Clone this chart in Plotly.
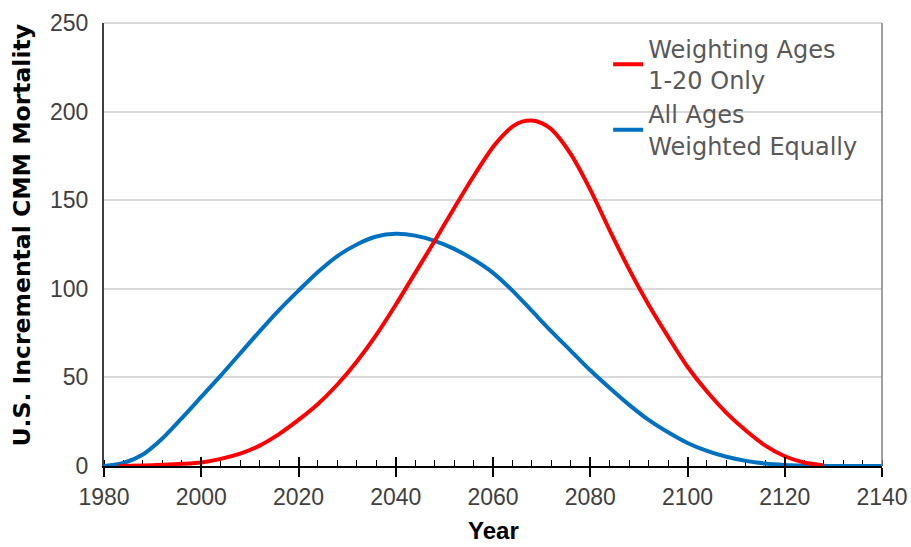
import plotly.graph_objects as go

# ---- data ----
years_red = [1983, 1988, 1992, 1996, 2000, 2004, 2008, 2012, 2016, 2020, 2024, 2028,
             2032, 2036, 2040, 2044, 2048, 2052, 2056, 2060, 2062, 2064, 2066, 2068,
             2070, 2072, 2076, 2080, 2084, 2088, 2092, 2096, 2100, 2104, 2108, 2112,
             2116, 2120, 2124, 2128]
red_vals = [0, 0.3, 0.7, 1.2, 2, 4, 7, 11.5, 18, 26, 35, 46,
            59, 74, 91, 109, 127, 145.5, 163.5, 180, 186.5, 191.5, 194.3, 195,
            193.5, 190, 176, 156, 133, 111, 91, 73, 56, 42, 30, 20,
            11.5, 5.5, 2, 0.3]

years_blue = [1980, 1984, 1988, 1992, 1996, 2000, 2004, 2008, 2012, 2016, 2020, 2024,
              2028, 2032, 2036, 2040, 2044, 2048, 2052, 2056, 2060, 2064, 2068, 2072,
              2076, 2080, 2084, 2088, 2092, 2096, 2100, 2104, 2108, 2112, 2116, 2120,
              2124, 2128, 2134, 2140]
blue_vals = [0, 1.7, 6.5, 15.5, 27, 39, 51, 63.5, 76, 88, 99, 109.5,
             118.5, 125, 129.5, 131, 130, 127, 122.5, 116.5, 109, 99, 87.5, 76,
             65, 54, 44, 34.5, 26, 19, 13, 8.5, 5.2, 2.9, 1.4, 0.6,
             0.2, 0, 0, 0]

x_ticks = [1980, 2000, 2020, 2040, 2060, 2080, 2100, 2120, 2140]
y_ticks = [0, 50, 100, 150, 200, 250]
y_title = "U.S. Incremental CMM Mortality"
x_title = "Year"

fig = go.Figure()
fig.add_trace(go.Scatter(
    x=years_blue, y=blue_vals, mode="lines", name="All Ages<br>Weighted Equally",
    line=dict(color="#0070C0", width=4, shape="spline", smoothing=0.8),
    cliponaxis=False, legendrank=2))
fig.add_trace(go.Scatter(
    x=years_red, y=red_vals, mode="lines", name="Weighting Ages<br>1-20 Only",
    line=dict(color="#FF0000", width=4, shape="spline", smoothing=0.8),
    cliponaxis=False, legendrank=1))
# helper trace so the overlay axis (upward half of major ticks) is drawn
fig.add_trace(go.Scatter(x=[x_ticks[0]], y=[None], xaxis="x2", mode="lines",
                         showlegend=False, hoverinfo="skip"))

fig.update_layout(
    width=911, height=547,
    margin=dict(l=104, r=29, t=23, b=81, autoexpand=False),
    plot_bgcolor="white", paper_bgcolor="white",
    showlegend=True,
    xaxis=dict(
        range=[x_ticks[0], x_ticks[-1]], tickvals=x_ticks, automargin=False,
        ticks="outside", ticklen=9, tickwidth=1.5, tickcolor="#000000",
        showline=True, linecolor="#000000", linewidth=2,
        showgrid=False, zeroline=False, layer="below traces",
        minor=dict(dtick=4, tick0=1980, ticks="inside", ticklen=6,
                   tickwidth=1.2, tickcolor="#000000", showgrid=False),
        tickfont=dict(family="Liberation Sans, Arial", size=23, color="#404040"),
    ),
    xaxis2=dict(
        overlaying="x", anchor="y", side="bottom", automargin=False,
        range=[x_ticks[0], x_ticks[-1]], tickvals=x_ticks,
        ticks="inside", ticklen=9, tickwidth=1.5, tickcolor="#000000",
        showticklabels=False, showline=False, showgrid=False, zeroline=False,
    ),
    yaxis=dict(
        range=[y_ticks[0], y_ticks[-1]], tickvals=y_ticks, automargin=False,
        showgrid=True, gridcolor="#D9D9D9", gridwidth=2,
        showline=True, linecolor="#404040", linewidth=2,
        ticks="", zeroline=False, ticklabelstandoff=9,
        tickfont=dict(family="Liberation Sans, Arial", size=23, color="#404040"),
    ),
    annotations=[
        dict(text="<b>" + y_title + "</b>", textangle=-90, showarrow=False,
             xref="paper", yref="paper", x=-0.105, y=0.521,
             xanchor="center", yanchor="middle",
             font=dict(family="DejaVu Sans", size=23.5, color="#000000")),
        dict(text="<b>" + x_title + "</b>", showarrow=False,
             xref="paper", yref="paper", x=0.5, y=-0.145,
             xanchor="center", yanchor="middle",
             font=dict(family="Liberation Sans, Arial", size=24, color="#000000")),
    ],
    legend=dict(
        x=0.648, y=0.992, xanchor="left", yanchor="top",
        font=dict(family="DejaVu Sans", size=24, color="#595959"),
        bgcolor="rgba(0,0,0,0)", tracegroupgap=0,
    ),
    shapes=[
        dict(type="line", xref="paper", yref="paper", x0=0, x1=1, y0=1, y1=1,
             line=dict(color="#D9D9D9", width=2), layer="below"),
        dict(type="line", xref="paper", yref="paper", x0=1, x1=1, y0=0, y1=1,
             line=dict(color="#808080", width=1.5)),
    ],
)

fig.write_html(
    "out.html",
    config={"displayModeBar": False},
    post_script="document.body.style.margin='0';document.body.style.overflow='hidden';",
)
